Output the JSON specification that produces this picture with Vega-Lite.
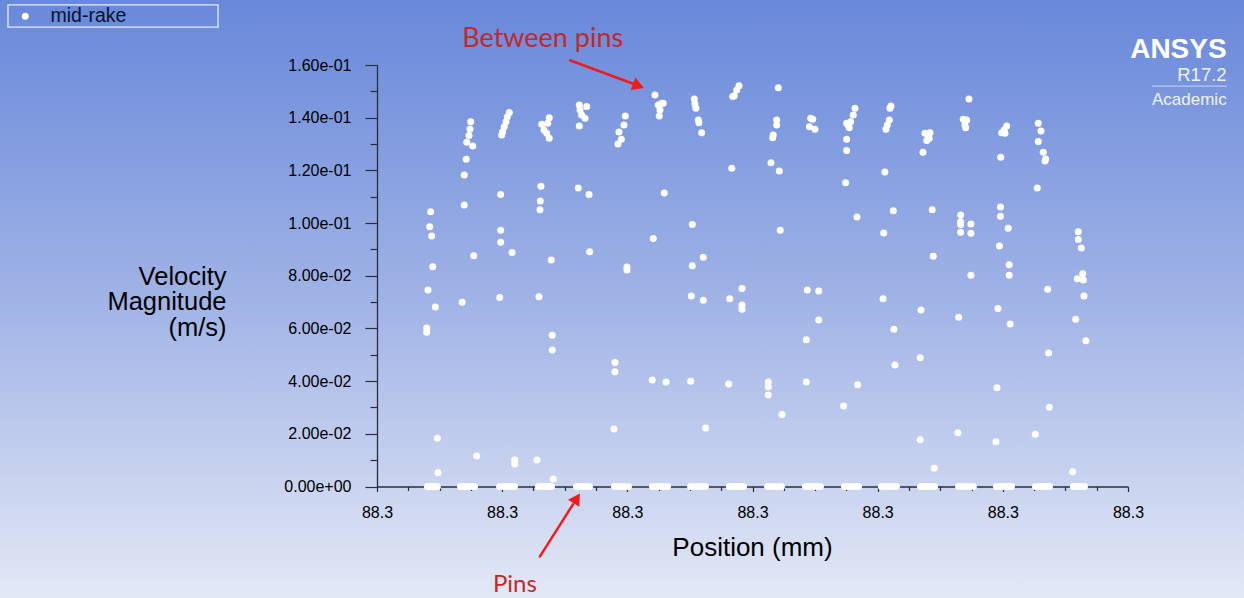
{
  "$schema": "https://vega.github.io/schema/vega-lite/v6.json",
  "width": 1244,
  "height": 598,
  "autosize": "none",
  "padding": 0,
  "background": "#a3b5e6",
  "view": {
    "stroke": null,
    "fill": {"gradient": "linear", "x1": 0, "y1": 0, "x2": 0, "y2": 1,
      "stops": [{"offset": 0, "color": "#6888da"}, {"offset": 0.5, "color": "#a0b3e6"}, {"offset": 1, "color": "#e3e8f5"}]}
  },
  "config": {"font": "Liberation Sans"},
  "resolve": {"axis": {"x": "independent", "y": "independent"}},
  "layer": [
    {
      "data": {"values": [
        {"position": 0.429, "velocity": 0.1043}, {"position": 0.421, "velocity": 0.0986}, {"position": 0.437, "velocity": 0.0951}, {"position": 0.445, "velocity": 0.0834}, {"position": 0.407, "velocity": 0.0746}, {"position": 0.466, "velocity": 0.0681}, {"position": 0.397, "velocity": 0.0602}, {"position": 0.397, "velocity": 0.0586}, {"position": 0.482, "velocity": 0.0183}, {"position": 0.487, "velocity": 0.0052},
        {"position": 0.749, "velocity": 0.1385}, {"position": 0.743, "velocity": 0.1357}, {"position": 0.735, "velocity": 0.1332}, {"position": 0.717, "velocity": 0.1307}, {"position": 0.765, "velocity": 0.1293}, {"position": 0.713, "velocity": 0.1242}, {"position": 0.697, "velocity": 0.1182}, {"position": 0.697, "velocity": 0.1069}, {"position": 0.773, "velocity": 0.0876}, {"position": 0.681, "velocity": 0.0699}, {"position": 0.797, "velocity": 0.0116},
        {"position": 1.057, "velocity": 0.1420}, {"position": 1.041, "velocity": 0.1404}, {"position": 1.031, "velocity": 0.1385}, {"position": 1.017, "velocity": 0.1366}, {"position": 1.004, "velocity": 0.1347}, {"position": 0.996, "velocity": 0.1334}, {"position": 0.988, "velocity": 0.1108}, {"position": 0.988, "velocity": 0.0973}, {"position": 0.988, "velocity": 0.0927}, {"position": 1.079, "velocity": 0.0888}, {"position": 0.980, "velocity": 0.0717}, {"position": 1.100, "velocity": 0.0101}, {"position": 1.100, "velocity": 0.0085},
        {"position": 1.376, "velocity": 0.1400}, {"position": 1.316, "velocity": 0.1375}, {"position": 1.364, "velocity": 0.1379}, {"position": 1.334, "velocity": 0.1353}, {"position": 1.356, "velocity": 0.1341}, {"position": 1.376, "velocity": 0.1322}, {"position": 1.310, "velocity": 0.1140}, {"position": 1.305, "velocity": 0.1084}, {"position": 1.302, "velocity": 0.1051}, {"position": 1.392, "velocity": 0.0860}, {"position": 1.294, "velocity": 0.0720}, {"position": 1.400, "velocity": 0.0574}, {"position": 1.400, "velocity": 0.0518}, {"position": 1.278, "velocity": 0.0101}, {"position": 1.408, "velocity": 0.0028},
        {"position": 1.616, "velocity": 0.1448}, {"position": 1.675, "velocity": 0.1442}, {"position": 1.622, "velocity": 0.1429}, {"position": 1.635, "velocity": 0.1410}, {"position": 1.662, "velocity": 0.1398}, {"position": 1.616, "velocity": 0.1368}, {"position": 1.608, "velocity": 0.1133}, {"position": 1.694, "velocity": 0.1108}, {"position": 1.699, "velocity": 0.0891},
        {"position": 1.984, "velocity": 0.1406}, {"position": 1.973, "velocity": 0.1372}, {"position": 1.933, "velocity": 0.1346}, {"position": 1.952, "velocity": 0.1318}, {"position": 1.925, "velocity": 0.1300}, {"position": 1.997, "velocity": 0.0833}, {"position": 1.997, "velocity": 0.0822}, {"position": 1.901, "velocity": 0.0471}, {"position": 1.901, "velocity": 0.0436}, {"position": 1.893, "velocity": 0.0218},
        {"position": 2.221, "velocity": 0.1486}, {"position": 2.274, "velocity": 0.1455}, {"position": 2.287, "velocity": 0.1455}, {"position": 2.247, "velocity": 0.1448}, {"position": 2.261, "velocity": 0.1429}, {"position": 2.255, "velocity": 0.1406}, {"position": 2.295, "velocity": 0.1114}, {"position": 2.207, "velocity": 0.0941}, {"position": 2.199, "velocity": 0.0404}, {"position": 2.309, "velocity": 0.0397},
        {"position": 2.535, "velocity": 0.1471}, {"position": 2.540, "velocity": 0.1452}, {"position": 2.548, "velocity": 0.1436}, {"position": 2.567, "velocity": 0.1391}, {"position": 2.572, "velocity": 0.1381}, {"position": 2.594, "velocity": 0.1343}, {"position": 2.519, "velocity": 0.0995}, {"position": 2.607, "velocity": 0.0870}, {"position": 2.519, "velocity": 0.0838}, {"position": 2.511, "velocity": 0.0723}, {"position": 2.607, "velocity": 0.0707}, {"position": 2.506, "velocity": 0.0400}, {"position": 2.626, "velocity": 0.0222},
        {"position": 2.892, "velocity": 0.1521}, {"position": 2.874, "velocity": 0.1505}, {"position": 2.854, "velocity": 0.1483}, {"position": 2.842, "velocity": 0.1480}, {"position": 2.834, "velocity": 0.1208}, {"position": 2.916, "velocity": 0.0752}, {"position": 2.818, "velocity": 0.0713}, {"position": 2.916, "velocity": 0.0689}, {"position": 2.916, "velocity": 0.0673}, {"position": 2.810, "velocity": 0.0389},
        {"position": 3.206, "velocity": 0.1514}, {"position": 3.193, "velocity": 0.1391}, {"position": 3.193, "velocity": 0.1372}, {"position": 3.166, "velocity": 0.1334}, {"position": 3.161, "velocity": 0.1324}, {"position": 3.148, "velocity": 0.1229}, {"position": 3.214, "velocity": 0.1198}, {"position": 3.222, "velocity": 0.0973}, {"position": 3.126, "velocity": 0.0397}, {"position": 3.126, "velocity": 0.0379}, {"position": 3.126, "velocity": 0.0347}, {"position": 3.236, "velocity": 0.0273},
        {"position": 3.465, "velocity": 0.1398}, {"position": 3.481, "velocity": 0.1394}, {"position": 3.454, "velocity": 0.1366}, {"position": 3.499, "velocity": 0.1356}, {"position": 3.438, "velocity": 0.0746}, {"position": 3.529, "velocity": 0.0742}, {"position": 3.529, "velocity": 0.0632}, {"position": 3.430, "velocity": 0.0557}, {"position": 3.430, "velocity": 0.0397},
        {"position": 3.819, "velocity": 0.1436}, {"position": 3.805, "velocity": 0.1410}, {"position": 3.784, "velocity": 0.1385}, {"position": 3.765, "velocity": 0.1372}, {"position": 3.752, "velocity": 0.1379}, {"position": 3.773, "velocity": 0.1362}, {"position": 3.752, "velocity": 0.1318}, {"position": 3.752, "velocity": 0.1275}, {"position": 3.744, "velocity": 0.1153}, {"position": 3.835, "velocity": 0.1023}, {"position": 3.840, "velocity": 0.0386}, {"position": 3.728, "velocity": 0.0306},
        {"position": 4.106, "velocity": 0.1444}, {"position": 4.098, "velocity": 0.1436}, {"position": 4.093, "velocity": 0.1391}, {"position": 4.077, "velocity": 0.1372}, {"position": 4.066, "velocity": 0.1356}, {"position": 4.058, "velocity": 0.1194}, {"position": 4.125, "velocity": 0.1047}, {"position": 4.048, "velocity": 0.0962}, {"position": 4.043, "velocity": 0.0713}, {"position": 4.130, "velocity": 0.0597}, {"position": 4.138, "velocity": 0.0461},
        {"position": 4.378, "velocity": 0.1341}, {"position": 4.418, "velocity": 0.1343}, {"position": 4.404, "velocity": 0.1328}, {"position": 4.392, "velocity": 0.1313}, {"position": 4.412, "velocity": 0.1322}, {"position": 4.362, "velocity": 0.1269}, {"position": 4.436, "velocity": 0.1051}, {"position": 4.444, "velocity": 0.0874}, {"position": 4.346, "velocity": 0.0670}, {"position": 4.340, "velocity": 0.0489}, {"position": 4.340, "velocity": 0.0177}, {"position": 4.452, "velocity": 0.0069},
        {"position": 4.729, "velocity": 0.1471}, {"position": 4.684, "velocity": 0.1394}, {"position": 4.711, "velocity": 0.1391}, {"position": 4.697, "velocity": 0.1372}, {"position": 4.703, "velocity": 0.1362}, {"position": 4.663, "velocity": 0.1031}, {"position": 4.663, "velocity": 0.1005}, {"position": 4.663, "velocity": 0.0995}, {"position": 4.745, "velocity": 0.0996}, {"position": 4.663, "velocity": 0.0965}, {"position": 4.745, "velocity": 0.0961}, {"position": 4.745, "velocity": 0.0802}, {"position": 4.647, "velocity": 0.0642}, {"position": 4.641, "velocity": 0.0204},
        {"position": 5.031, "velocity": 0.1368}, {"position": 5.011, "velocity": 0.1353}, {"position": 4.991, "velocity": 0.1343}, {"position": 5.017, "velocity": 0.1341}, {"position": 4.983, "velocity": 0.1250}, {"position": 4.981, "velocity": 0.1061}, {"position": 4.981, "velocity": 0.1026}, {"position": 5.043, "velocity": 0.0980}, {"position": 4.973, "velocity": 0.0913}, {"position": 5.051, "velocity": 0.0842}, {"position": 5.051, "velocity": 0.0802}, {"position": 4.961, "velocity": 0.0676}, {"position": 5.059, "velocity": 0.0617}, {"position": 4.953, "velocity": 0.0375}, {"position": 4.945, "velocity": 0.0170},
        {"position": 5.283, "velocity": 0.1379}, {"position": 5.305, "velocity": 0.1349}, {"position": 5.283, "velocity": 0.1310}, {"position": 5.323, "velocity": 0.1269}, {"position": 5.342, "velocity": 0.1243}, {"position": 5.337, "velocity": 0.1236}, {"position": 5.275, "velocity": 0.1133}, {"position": 5.358, "velocity": 0.0749}, {"position": 5.366, "velocity": 0.0507}, {"position": 5.371, "velocity": 0.0301}, {"position": 5.259, "velocity": 0.0198},
        {"position": 5.603, "velocity": 0.0967}, {"position": 5.603, "velocity": 0.0938}, {"position": 5.627, "velocity": 0.0905}, {"position": 5.638, "velocity": 0.0808}, {"position": 5.595, "velocity": 0.0789}, {"position": 5.643, "velocity": 0.0784}, {"position": 5.648, "velocity": 0.0723}, {"position": 5.582, "velocity": 0.0635}, {"position": 5.664, "velocity": 0.0553}, {"position": 5.558, "velocity": 0.0056},
        {"position": 0.403, "velocity": 0}, {"position": 0.423, "velocity": 0}, {"position": 0.443, "velocity": 0}, {"position": 0.463, "velocity": 0}, {"position": 0.483, "velocity": 0},
        {"position": 0.667, "velocity": 0}, {"position": 0.695, "velocity": 0}, {"position": 0.723, "velocity": 0}, {"position": 0.751, "velocity": 0}, {"position": 0.779, "velocity": 0},
        {"position": 0.979, "velocity": 0}, {"position": 1.009, "velocity": 0}, {"position": 1.039, "velocity": 0}, {"position": 1.069, "velocity": 0}, {"position": 1.098, "velocity": 0},
        {"position": 1.290, "velocity": 0}, {"position": 1.316, "velocity": 0}, {"position": 1.342, "velocity": 0}, {"position": 1.368, "velocity": 0}, {"position": 1.394, "velocity": 0},
        {"position": 1.594, "velocity": 0}, {"position": 1.620, "velocity": 0}, {"position": 1.646, "velocity": 0}, {"position": 1.672, "velocity": 0}, {"position": 1.698, "velocity": 0},
        {"position": 1.897, "velocity": 0}, {"position": 1.925, "velocity": 0}, {"position": 1.953, "velocity": 0}, {"position": 1.981, "velocity": 0}, {"position": 2.009, "velocity": 0},
        {"position": 2.201, "velocity": 0}, {"position": 2.231, "velocity": 0}, {"position": 2.261, "velocity": 0}, {"position": 2.291, "velocity": 0}, {"position": 2.321, "velocity": 0},
        {"position": 2.505, "velocity": 0}, {"position": 2.535, "velocity": 0}, {"position": 2.565, "velocity": 0}, {"position": 2.595, "velocity": 0}, {"position": 2.624, "velocity": 0},
        {"position": 2.816, "velocity": 0}, {"position": 2.844, "velocity": 0}, {"position": 2.872, "velocity": 0}, {"position": 2.900, "velocity": 0}, {"position": 2.928, "velocity": 0},
        {"position": 3.120, "velocity": 0}, {"position": 3.148, "velocity": 0}, {"position": 3.176, "velocity": 0}, {"position": 3.204, "velocity": 0}, {"position": 3.232, "velocity": 0},
        {"position": 3.423, "velocity": 0}, {"position": 3.453, "velocity": 0}, {"position": 3.483, "velocity": 0}, {"position": 3.513, "velocity": 0}, {"position": 3.543, "velocity": 0},
        {"position": 3.735, "velocity": 0}, {"position": 3.763, "velocity": 0}, {"position": 3.791, "velocity": 0}, {"position": 3.819, "velocity": 0}, {"position": 3.847, "velocity": 0},
        {"position": 4.030, "velocity": 0}, {"position": 4.060, "velocity": 0}, {"position": 4.090, "velocity": 0}, {"position": 4.120, "velocity": 0}, {"position": 4.150, "velocity": 0},
        {"position": 4.342, "velocity": 0}, {"position": 4.370, "velocity": 0}, {"position": 4.398, "velocity": 0}, {"position": 4.426, "velocity": 0}, {"position": 4.454, "velocity": 0},
        {"position": 4.646, "velocity": 0}, {"position": 4.676, "velocity": 0}, {"position": 4.706, "velocity": 0}, {"position": 4.735, "velocity": 0}, {"position": 4.765, "velocity": 0},
        {"position": 4.949, "velocity": 0}, {"position": 4.979, "velocity": 0}, {"position": 5.009, "velocity": 0}, {"position": 5.039, "velocity": 0}, {"position": 5.069, "velocity": 0},
        {"position": 5.261, "velocity": 0}, {"position": 5.289, "velocity": 0}, {"position": 5.317, "velocity": 0}, {"position": 5.345, "velocity": 0}, {"position": 5.373, "velocity": 0},
        {"position": 5.564, "velocity": 0}, {"position": 5.586, "velocity": 0}, {"position": 5.608, "velocity": 0}, {"position": 5.630, "velocity": 0}, {"position": 5.652, "velocity": 0}
      ]},
      "mark": {"type": "point", "shape": "circle", "filled": true, "size": 49, "opacity": 1, "strokeWidth": 0},
      "encoding": {
        "x": {
          "field": "position", "type": "quantitative",
          "scale": {"domain": [0, 6], "range": [377, 1128], "nice": false, "zero": false},
          "axis": {
            "orient": "bottom",
            "values": [0, 1, 2, 3, 4, 5, 6],
            "labelExpr": "'88.3'",
            "title": "Position (mm)",
            "offset": -111.5,
            "grid": false,
            "domainColor": "#2a2d3a", "domainWidth": 1.3,
            "tickColor": "#2a2d3a", "tickWidth": 1.2, "tickSize": 5,
            "labelFont": "Liberation Sans", "labelFontSize": 16, "labelColor": "#000000", "labelPadding": 13,
            "labelOverlap": false, "labelFlush": false,
            "titleFont": "Liberation Sans", "titleFontSize": 26, "titleFontWeight": "normal", "titleColor": "#000000",
            "titleX": 752, "titleY": 68.5, "titleAlign": "center", "titleBaseline": "alphabetic"
          }
        },
        "y": {
          "field": "velocity", "type": "quantitative",
          "scale": {"domain": [0, 0.16], "range": [486.5, 65], "nice": false, "zero": false},
          "axis": {
            "orient": "left",
            "values": [0, 0.02, 0.04, 0.06, 0.08, 0.1, 0.12, 0.14, 0.16],
            "labelExpr": "datum.value == 0 ? '0.00e+00' : replace(format(datum.value, '.2e'), 'e-', 'e-0')",
            "title": ["Velocity", "Magnitude", "(m/s)"],
            "offset": -377,
            "grid": false,
            "domainColor": "#2a2d3a", "domainWidth": 1.3,
            "tickColor": "#2a2d3a", "tickWidth": 1.2, "tickSize": 12,
            "labelFont": "Liberation Sans", "labelFontSize": 16, "labelColor": "#000000", "labelPadding": 14,
            "labelOverlap": false, "labelFlush": false,
            "titleFont": "Liberation Sans", "titleFontSize": 25.5, "titleFontWeight": "normal", "titleColor": "#000000",
            "titleAngle": 0, "titleAlign": "right", "titleBaseline": "alphabetic",
            "titleX": -151, "titleY": 284, "titleLineHeight": 25.5
          }
        },
        "color": {
          "datum": "mid-rake", "type": "nominal",
          "scale": {"range": ["#ffffff"]},
          "legend": {
            "orient": "none", "legendX": 8, "legendY": 4.5, "title": null, "padding": 2,
            "symbolType": "circle", "symbolSize": 49, "symbolFillColor": "#ffffff", "symbolStrokeWidth": 0,
            "symbolOffset": 5.5, "labelOffset": 15.5,
            "labelFont": "Liberation Sans", "labelFontSize": 19.5, "labelColor": "#0b1030", "labelLimit": 300
          }
        }
      }
    },
    {
      "data": {"values": [{}]},
      "mark": {"type": "rect", "filled": false, "color": "#e6ecf8", "strokeWidth": 1.3},
      "encoding": {
        "x": {"datum": -2.948, "axis": {
          "orient": "bottom", "offset": -111.5, "title": null, "labels": false, "domain": false, "grid": false,
          "values": [0.25, 0.5, 0.75, 1.25, 1.5, 1.75, 2.25, 2.5, 2.75, 3.25, 3.5, 3.75, 4.25, 4.5, 4.75, 5.25, 5.5, 5.75],
          "tickColor": "#2a2d3a", "tickWidth": 1.2, "tickSize": 4}},
        "x2": {"datum": -1.27},
        "y": {"datum": 0.1828, "axis": {
          "orient": "left", "offset": -377, "title": null, "labels": false, "domain": false, "grid": false,
          "values": [0.01, 0.03, 0.05, 0.07, 0.09, 0.11, 0.13, 0.15],
          "tickColor": "#2a2d3a", "tickWidth": 1.2, "tickSize": 7}},
        "y2": {"datum": 0.1744}
      }
    },
    {
      "data": {"values": [{}]},
      "mark": {"type": "text", "text": "Between pins", "font": "Lato", "fontSize": 27, "color": "#c62828", "align": "center", "baseline": "alphabetic"},
      "encoding": {"x": {"datum": 1.324, "axis": null}, "y": {"datum": 0.1668, "axis": null}}
    },
    {
      "data": {"values": [{}]},
      "mark": {"type": "rule", "color": "#f21b1b", "strokeWidth": 2.5},
      "encoding": {"x": {"datum": 1.536, "axis": null}, "y": {"datum": 0.1619, "axis": null}, "x2": {"datum": 2.052}, "y2": {"datum": 0.1528}}
    },
    {
      "data": {"values": [{}]},
      "mark": {"type": "point", "shape": "triangle-right", "filled": true, "size": 180, "angle": 21, "color": "#f21b1b", "opacity": 1},
      "encoding": {"x": {"datum": 2.089, "axis": null}, "y": {"datum": 0.1521, "axis": null}}
    },
    {
      "data": {"values": [{}]},
      "mark": {"type": "text", "text": "Pins", "font": "Lato", "fontSize": 24, "color": "#c62828", "align": "center", "baseline": "alphabetic"},
      "encoding": {"x": {"datum": 1.102, "axis": null}, "y": {"datum": -0.04, "axis": null}}
    },
    {
      "data": {"values": [{}]},
      "mark": {"type": "rule", "color": "#f21b1b", "strokeWidth": 2.5},
      "encoding": {"x": {"datum": 1.297, "axis": null}, "y": {"datum": -0.0269, "axis": null}, "x2": {"datum": 1.571}, "y2": {"datum": -0.0064}}
    },
    {
      "data": {"values": [{}]},
      "mark": {"type": "point", "shape": "triangle-right", "filled": true, "size": 180, "angle": 302.5, "color": "#f21b1b", "opacity": 1},
      "encoding": {"x": {"datum": 1.596, "axis": null}, "y": {"datum": -0.0045, "axis": null}}
    },
    {
      "data": {"values": [{}]},
      "mark": {"type": "text", "text": "ANSYS", "font": "Liberation Sans", "fontWeight": "bold", "fontSize": 28, "color": "#ffffff", "align": "right", "baseline": "alphabetic"},
      "encoding": {"x": {"datum": 6.788, "axis": null}, "y": {"datum": 0.1625, "axis": null}}
    },
    {
      "data": {"values": [{}]},
      "mark": {"type": "text", "text": "R17.2", "font": "Liberation Sans", "fontSize": 18.5, "color": "#eef2fb", "align": "right", "baseline": "alphabetic"},
      "encoding": {"x": {"datum": 6.788, "axis": null}, "y": {"datum": 0.1539, "axis": null}}
    },
    {
      "data": {"values": [{}]},
      "mark": {"type": "rule", "color": "#c9d5f2", "strokeWidth": 1},
      "encoding": {"x": {"datum": 6.191, "axis": null}, "x2": {"datum": 6.791}, "y": {"datum": 0.152, "axis": null}}
    },
    {
      "data": {"values": [{}]},
      "mark": {"type": "text", "text": "Academic", "font": "Liberation Sans", "fontSize": 17, "color": "#eef2fb", "align": "right", "baseline": "alphabetic"},
      "encoding": {"x": {"datum": 6.788, "axis": null}, "y": {"datum": 0.1448, "axis": null}}
    }
  ]
}
